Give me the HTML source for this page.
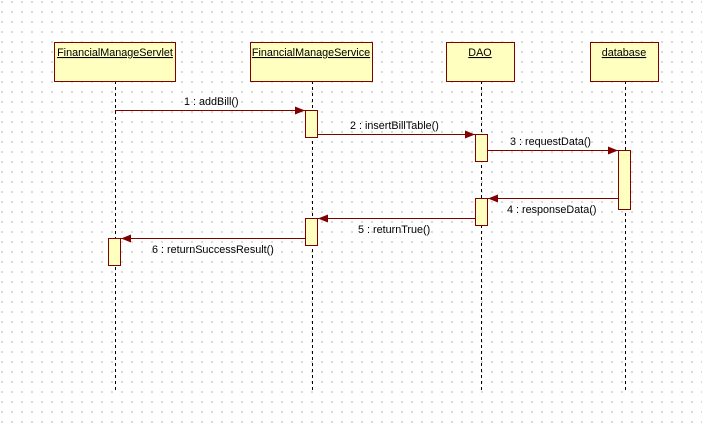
<!DOCTYPE html>
<html><head><style>
html,body{margin:0;padding:0}
body{width:702px;height:424px;overflow:hidden;background-color:#fff;background-image:radial-gradient(circle,#b8b8b8 0.7px,transparent 0.9px);background-size:10px 10px;background-position:-3px -3px}
svg{position:absolute;left:0;top:0}
text{font-family:"Liberation Sans",sans-serif;font-size:10.8px;fill:#000}
</style></head><body>
<svg width="702" height="424" xmlns="http://www.w3.org/2000/svg">
<defs><marker id="a" markerWidth="10" markerHeight="8" refX="10" refY="4" orient="auto" markerUnits="userSpaceOnUse"><path d="M0,0 L10,4 L0,8 Z" fill="#800000"/></marker></defs>
<g stroke="#000" stroke-dasharray="3,3" stroke-width="1">
<line x1="115.5" y1="81" x2="115.5" y2="392"/>
<line x1="312.5" y1="81" x2="312.5" y2="392"/>
<line x1="481.5" y1="81" x2="481.5" y2="392"/>
<line x1="625.5" y1="81" x2="625.5" y2="392"/>
</g>
<g fill="#ffffc0" stroke="#800000" stroke-width="1">
<rect x="54.5" y="42.5" width="121" height="39"/>
<rect x="250.5" y="42.5" width="122" height="39"/>
<rect x="446.5" y="42.5" width="68" height="39"/>
<rect x="590.5" y="42.5" width="68" height="39"/>
<rect x="305.5" y="110.5" width="12" height="27"/>
<rect x="475.5" y="134.5" width="12" height="27"/>
<rect x="618.5" y="150.5" width="12" height="59"/>
<rect x="475.5" y="198.5" width="12" height="27"/>
<rect x="305.5" y="218.5" width="12" height="27"/>
<rect x="108.5" y="238.5" width="12" height="27"/>
</g>
<g stroke="#800000" stroke-width="1" marker-end="url(#a)">
<line x1="115" y1="110.5" x2="305" y2="110.5"/>
<line x1="318" y1="134.5" x2="475" y2="134.5"/>
<line x1="488" y1="150.5" x2="618" y2="150.5"/>
<line x1="618" y1="198.5" x2="488" y2="198.5"/>
<line x1="475" y1="218.5" x2="318" y2="218.5"/>
<line x1="305" y1="238.5" x2="121" y2="238.5"/>
</g>
<g text-decoration="underline" text-anchor="middle" style="font-size:10.6px">
<text x="115" y="56">FinancialManageServlet</text>
<text x="311" y="56">FinancialManageService</text>
<text x="480" y="56">DAO</text>
<text x="624" y="56">database</text>
</g>
<text x="184" y="105">1 : addBill()</text>
<text x="350" y="129">2 : insertBillTable()</text>
<text x="510" y="145">3 : requestData()</text>
<text x="507" y="213">4 : responseData()</text>
<text x="358" y="233">5 : returnTrue()</text>
<text x="152" y="253">6 : returnSuccessResult()</text>
</svg>
</body></html>
